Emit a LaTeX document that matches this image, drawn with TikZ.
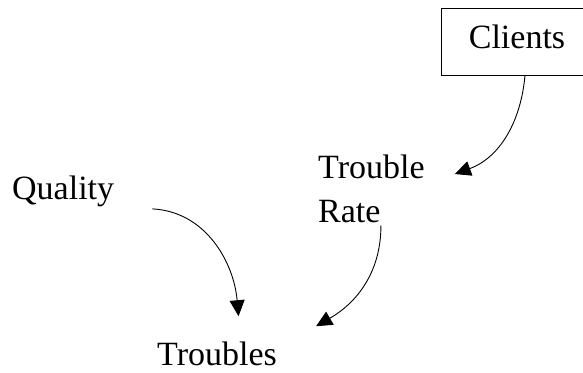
\documentclass[tikz,border=0pt]{standalone}
\usepackage{fontspec}
\setmainfont{Liberation Serif}
\usetikzlibrary{arrows.meta}

\begin{document}
\begin{tikzpicture}[x=1pt, y=-1pt,
        word/.style={inner sep=0pt, font=\fontsize{34}{44}\selectfont},
        link/.style={-{Triangle[length=16pt,width=15pt]}, line width=0.9pt}]
        \useasboundingbox (0,0) rectangle (583,372);

        % Variables
        \node[word, draw, minimum width=152pt, minimum height=67pt, text depth=10pt] (clients) at (517, 41.5) {Clients};
        \node[word, align=left, anchor=west] (rate) at (318, 188.5) {Trouble\\Rate};
        \node[word, anchor=base west] (quality) at (12, 199) {Quality};
        \node[word, anchor=base west] (troubles) at (157, 365) {Troubles};

        % Causal links
        \draw[link] ([xshift=8pt]clients.south) to[out=-95, in=20] ([xshift=30pt, yshift=14.5pt]rate.east);
        \draw[link] ([xshift=38pt, yshift=-18pt]quality.east) to[out=-3, in=95] ([xshift=21.5pt, yshift=25pt]troubles.north);
        \draw[link] ([xshift=9.5pt, yshift=-3pt]rate.south) to[out=-90, in=30] ([xshift=39pt, yshift=15pt]troubles.north east);
    \end{tikzpicture}
\end{document}
